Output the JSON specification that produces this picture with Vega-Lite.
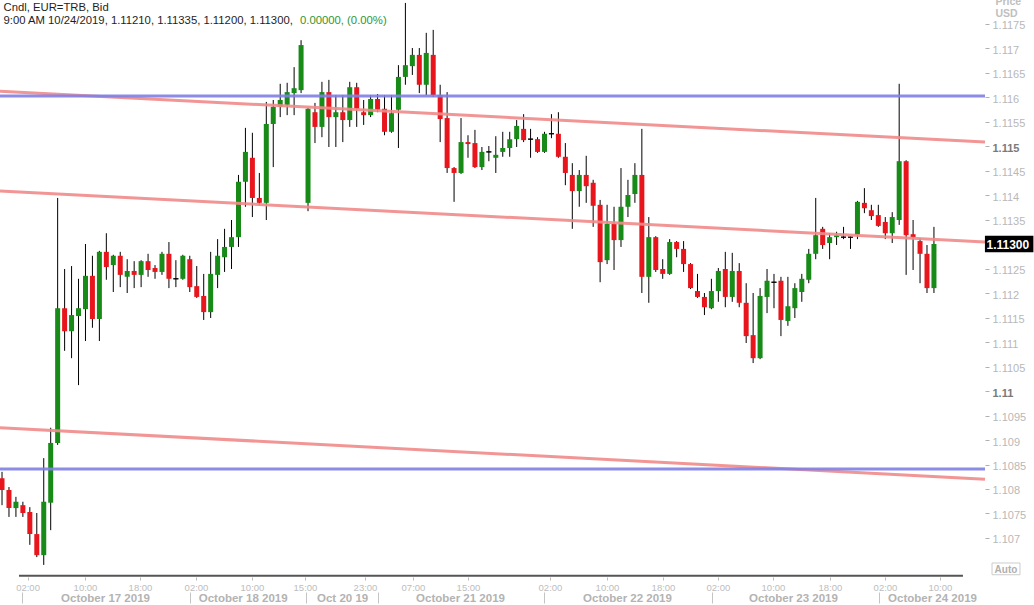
{
  "$schema": "https://vega.github.io/schema/vega-lite/v6.json",
  "width": 985,
  "height": 577,
  "autosize": "none",
  "padding": {"left": 0, "top": 0, "right": 49, "bottom": 28},
  "background": "white",
  "config": {"view": {"stroke": null}, "font": "Liberation Sans", "scale": {"continuousPadding": 0}, "axis": {"labelFont": "Liberation Sans", "titleFont": "Liberation Sans"}},
  "datasets": {
    "candles": [
      {"i":0,"o":1.10822,"h":1.10835,"l":1.10767,"c":1.10798},
      {"i":1,"o":1.10798,"h":1.10804,"l":1.10743,"c":1.10761},
      {"i":2,"o":1.10761,"h":1.10784,"l":1.10743,"c":1.10774},
      {"i":3,"o":1.10767,"h":1.10774,"l":1.10743,"c":1.10751},
      {"i":4,"o":1.10753,"h":1.10763,"l":1.10686,"c":1.10708},
      {"i":5,"o":1.10708,"h":1.10751,"l":1.10661,"c":1.10665},
      {"i":6,"o":1.10665,"h":1.10863,"l":1.10645,"c":1.10774},
      {"i":7,"o":1.10772,"h":1.10925,"l":1.10716,"c":1.10894},
      {"i":8,"o":1.10894,"h":1.11394,"l":1.10890,"c":1.11169},
      {"i":9,"o":1.11169,"h":1.11249,"l":1.11082,"c":1.11122},
      {"i":10,"o":1.11122,"h":1.11255,"l":1.11067,"c":1.11155},
      {"i":11,"o":1.11153,"h":1.11229,"l":1.11012,"c":1.11169},
      {"i":12,"o":1.11167,"h":1.11300,"l":1.11102,"c":1.11235},
      {"i":13,"o":1.11235,"h":1.11276,"l":1.11129,"c":1.11147},
      {"i":14,"o":1.11147,"h":1.11286,"l":1.11102,"c":1.11284},
      {"i":15,"o":1.11284,"h":1.11322,"l":1.11227,"c":1.11253},
      {"i":16,"o":1.11257,"h":1.11278,"l":1.11202,"c":1.11276},
      {"i":17,"o":1.11276,"h":1.11284,"l":1.11212,"c":1.11237},
      {"i":18,"o":1.11233,"h":1.11269,"l":1.11200,"c":1.11245},
      {"i":19,"o":1.11245,"h":1.11265,"l":1.11210,"c":1.11237},
      {"i":20,"o":1.11237,"h":1.11267,"l":1.11212,"c":1.11265},
      {"i":21,"o":1.11265,"h":1.11280,"l":1.11233,"c":1.11247},
      {"i":22,"o":1.11251,"h":1.11257,"l":1.11229,"c":1.11243},
      {"i":23,"o":1.11243,"h":1.11284,"l":1.11237,"c":1.11280},
      {"i":24,"o":1.11280,"h":1.11304,"l":1.11210,"c":1.11229},
      {"i":25,"o":1.11229,"h":1.11267,"l":1.11212,"c":1.11229},
      {"i":26,"o":1.11229,"h":1.11278,"l":1.11227,"c":1.11276},
      {"i":27,"o":1.11269,"h":1.11276,"l":1.11202,"c":1.11212},
      {"i":28,"o":1.11214,"h":1.11255,"l":1.11190,"c":1.11192},
      {"i":29,"o":1.11194,"h":1.11239,"l":1.11145,"c":1.11161},
      {"i":30,"o":1.11161,"h":1.11284,"l":1.11149,"c":1.11239},
      {"i":31,"o":1.11237,"h":1.11310,"l":1.11210,"c":1.11276},
      {"i":32,"o":1.11273,"h":1.11331,"l":1.11243,"c":1.11294},
      {"i":33,"o":1.11294,"h":1.11349,"l":1.11249,"c":1.11314},
      {"i":34,"o":1.11314,"h":1.11441,"l":1.11294,"c":1.11427},
      {"i":35,"o":1.11427,"h":1.11537,"l":1.11376,"c":1.11488},
      {"i":36,"o":1.11476,"h":1.11527,"l":1.11355,"c":1.11394},
      {"i":37,"o":1.11394,"h":1.11445,"l":1.11380,"c":1.11384},
      {"i":38,"o":1.11384,"h":1.11590,"l":1.11349,"c":1.11545},
      {"i":39,"o":1.11545,"h":1.11594,"l":1.11457,"c":1.11580},
      {"i":40,"o":1.11580,"h":1.11627,"l":1.11559,"c":1.11594},
      {"i":41,"o":1.11584,"h":1.11629,"l":1.11563,"c":1.11610},
      {"i":42,"o":1.11608,"h":1.11661,"l":1.11563,"c":1.11618},
      {"i":43,"o":1.11614,"h":1.11716,"l":1.11608,"c":1.11706},
      {"i":44,"o":1.11384,"h":1.11578,"l":1.11367,"c":1.11576},
      {"i":45,"o":1.11569,"h":1.11588,"l":1.11506,"c":1.11539},
      {"i":46,"o":1.11539,"h":1.11631,"l":1.11518,"c":1.11610},
      {"i":47,"o":1.11610,"h":1.11635,"l":1.11498,"c":1.11559},
      {"i":48,"o":1.11559,"h":1.11604,"l":1.11498,"c":1.11569},
      {"i":49,"o":1.11569,"h":1.11604,"l":1.11508,"c":1.11553},
      {"i":50,"o":1.11553,"h":1.11631,"l":1.11539,"c":1.11620},
      {"i":51,"o":1.11620,"h":1.11629,"l":1.11539,"c":1.11576},
      {"i":52,"o":1.11569,"h":1.11594,"l":1.11543,"c":1.11563},
      {"i":53,"o":1.11563,"h":1.11604,"l":1.11559,"c":1.11596},
      {"i":54,"o":1.11596,"h":1.11606,"l":1.11569,"c":1.11574},
      {"i":55,"o":1.11576,"h":1.11604,"l":1.11522,"c":1.11529},
      {"i":56,"o":1.11529,"h":1.11604,"l":1.11527,"c":1.11567},
      {"i":57,"o":1.11574,"h":1.11665,"l":1.11496,"c":1.11641},
      {"i":58,"o":1.11641,"h":1.11792,"l":1.11625,"c":1.11665},
      {"i":59,"o":1.11663,"h":1.11700,"l":1.11645,"c":1.11686},
      {"i":60,"o":1.11686,"h":1.11700,"l":1.11608,"c":1.11625},
      {"i":61,"o":1.11625,"h":1.11731,"l":1.11604,"c":1.11690},
      {"i":62,"o":1.11686,"h":1.11737,"l":1.11600,"c":1.11604},
      {"i":63,"o":1.11604,"h":1.11625,"l":1.11508,"c":1.11555},
      {"i":64,"o":1.11557,"h":1.11610,"l":1.11445,"c":1.11455},
      {"i":65,"o":1.11455,"h":1.11457,"l":1.11386,"c":1.11445},
      {"i":66,"o":1.11445,"h":1.11557,"l":1.11443,"c":1.11508},
      {"i":67,"o":1.11508,"h":1.11522,"l":1.11476,"c":1.11504},
      {"i":68,"o":1.11506,"h":1.11533,"l":1.11455,"c":1.11457},
      {"i":69,"o":1.11457,"h":1.11498,"l":1.11451,"c":1.11488},
      {"i":70,"o":1.11488,"h":1.11500,"l":1.11469,"c":1.11488},
      {"i":71,"o":1.11476,"h":1.11520,"l":1.11445,"c":1.11482},
      {"i":72,"o":1.11488,"h":1.11529,"l":1.11478,"c":1.11496},
      {"i":73,"o":1.11496,"h":1.11529,"l":1.11478,"c":1.11514},
      {"i":74,"o":1.11514,"h":1.11553,"l":1.11498,"c":1.11541},
      {"i":75,"o":1.11535,"h":1.11565,"l":1.11508,"c":1.11512},
      {"i":76,"o":1.11514,"h":1.11535,"l":1.11476,"c":1.11514},
      {"i":77,"o":1.11514,"h":1.11518,"l":1.11486,"c":1.11488},
      {"i":78,"o":1.11488,"h":1.11529,"l":1.11486,"c":1.11525},
      {"i":79,"o":1.11525,"h":1.11565,"l":1.11516,"c":1.11525},
      {"i":80,"o":1.11525,"h":1.11569,"l":1.11476,"c":1.11478},
      {"i":81,"o":1.11478,"h":1.11506,"l":1.11420,"c":1.11445},
      {"i":82,"o":1.11441,"h":1.11465,"l":1.11331,"c":1.11408},
      {"i":83,"o":1.11408,"h":1.11451,"l":1.11376,"c":1.11441},
      {"i":84,"o":1.11441,"h":1.11480,"l":1.11384,"c":1.11418},
      {"i":85,"o":1.11425,"h":1.11431,"l":1.11335,"c":1.11378},
      {"i":86,"o":1.11380,"h":1.11390,"l":1.11222,"c":1.11263},
      {"i":87,"o":1.11267,"h":1.11380,"l":1.11259,"c":1.11341},
      {"i":88,"o":1.11341,"h":1.11376,"l":1.11247,"c":1.11308},
      {"i":89,"o":1.11308,"h":1.11455,"l":1.11294,"c":1.11376},
      {"i":90,"o":1.11376,"h":1.11431,"l":1.11355,"c":1.11400},
      {"i":91,"o":1.11402,"h":1.11465,"l":1.11384,"c":1.11441},
      {"i":92,"o":1.11441,"h":1.11535,"l":1.11200,"c":1.11233},
      {"i":93,"o":1.11233,"h":1.11355,"l":1.11180,"c":1.11314},
      {"i":94,"o":1.11314,"h":1.11316,"l":1.11243,"c":1.11247},
      {"i":95,"o":1.11249,"h":1.11269,"l":1.11229,"c":1.11239},
      {"i":96,"o":1.11239,"h":1.11310,"l":1.11237,"c":1.11304},
      {"i":97,"o":1.11304,"h":1.11306,"l":1.11273,"c":1.11290},
      {"i":98,"o":1.11290,"h":1.11306,"l":1.11243,"c":1.11259},
      {"i":99,"o":1.11259,"h":1.11261,"l":1.11208,"c":1.11210},
      {"i":100,"o":1.11204,"h":1.11239,"l":1.11190,"c":1.11192},
      {"i":101,"o":1.11192,"h":1.11200,"l":1.11155,"c":1.11171},
      {"i":102,"o":1.11169,"h":1.11229,"l":1.11167,"c":1.11204},
      {"i":103,"o":1.11204,"h":1.11251,"l":1.11182,"c":1.11245},
      {"i":104,"o":1.11249,"h":1.11284,"l":1.11171,"c":1.11192},
      {"i":105,"o":1.11192,"h":1.11282,"l":1.11182,"c":1.11245},
      {"i":106,"o":1.11245,"h":1.11261,"l":1.11171,"c":1.11180},
      {"i":107,"o":1.11180,"h":1.11220,"l":1.11098,"c":1.11112},
      {"i":108,"o":1.11114,"h":1.11200,"l":1.11057,"c":1.11067},
      {"i":109,"o":1.11067,"h":1.11210,"l":1.11065,"c":1.11194},
      {"i":110,"o":1.11192,"h":1.11249,"l":1.11159,"c":1.11225},
      {"i":111,"o":1.11222,"h":1.11239,"l":1.11169,"c":1.11222},
      {"i":112,"o":1.11225,"h":1.11233,"l":1.11112,"c":1.11145},
      {"i":113,"o":1.11143,"h":1.11233,"l":1.11133,"c":1.11173},
      {"i":114,"o":1.11169,"h":1.11220,"l":1.11149,"c":1.11210},
      {"i":115,"o":1.11202,"h":1.11239,"l":1.11182,"c":1.11229},
      {"i":116,"o":1.11227,"h":1.11290,"l":1.11220,"c":1.11280},
      {"i":117,"o":1.11280,"h":1.11394,"l":1.11269,"c":1.11318},
      {"i":118,"o":1.11331,"h":1.11335,"l":1.11290,"c":1.11298},
      {"i":119,"o":1.11302,"h":1.11322,"l":1.11269,"c":1.11314},
      {"i":120,"o":1.11314,"h":1.11325,"l":1.11298,"c":1.11318},
      {"i":121,"o":1.11314,"h":1.11335,"l":1.11310,"c":1.11314},
      {"i":122,"o":1.11314,"h":1.11316,"l":1.11290,"c":1.11314},
      {"i":123,"o":1.11318,"h":1.11388,"l":1.11310,"c":1.11386},
      {"i":124,"o":1.11384,"h":1.11414,"l":1.11363,"c":1.11373},
      {"i":125,"o":1.11369,"h":1.11380,"l":1.11349,"c":1.11357},
      {"i":126,"o":1.11359,"h":1.11380,"l":1.11335,"c":1.11337},
      {"i":127,"o":1.11345,"h":1.11355,"l":1.11310,"c":1.11322},
      {"i":128,"o":1.11322,"h":1.11365,"l":1.11302,"c":1.11355},
      {"i":129,"o":1.11349,"h":1.11627,"l":1.11339,"c":1.11469},
      {"i":130,"o":1.11469,"h":1.11471,"l":1.11237,"c":1.11318},
      {"i":131,"o":1.11320,"h":1.11349,"l":1.11247,"c":1.11314},
      {"i":132,"o":1.11306,"h":1.11312,"l":1.11220,"c":1.11280},
      {"i":133,"o":1.11280,"h":1.11298,"l":1.11200,"c":1.11210},
      {"i":134,"o":1.11210,"h":1.11335,"l":1.11200,"c":1.11300}
    ],
    "lines": [
      {"id":"p1","i":-0.29,"v":1.11612},{"id":"p1","i":141.34,"v":1.11508},
      {"id":"p2","i":-0.29,"v":1.11408},{"id":"p2","i":141.34,"v":1.11304},
      {"id":"p3","i":-0.29,"v":1.10925},{"id":"p3","i":141.34,"v":1.10820},
      {"id":"b1","i":-0.29,"v":1.11602},{"id":"b1","i":141.34,"v":1.11602},
      {"id":"b2","i":-0.29,"v":1.10841},{"id":"b2","i":141.34,"v":1.10841}
    ]
  },
  "layer": [
    {
      "data": {"name": "candles"},
      "mark": {"type": "rule", "color": "#000000", "strokeWidth": 1},
      "encoding": {
        "x": {"field": "i", "type": "quantitative", "scale": {"domain": [-0.29, 141.34], "nice": false, "zero": false, "padding": 0},
          "axis": {"orient": "bottom", "title": null, "domain": false, "grid": false,
            "values": [3.67,11.93,19.84,27.89,35.94,43.56,52.19,59.09,67,78.79,86.99,95.04,102.94,110.85,119.05,126.96,134.86],
            "labelExpr": "['02:00','10:00','18:00','02:00','10:00','15:00','23:00','07:00','15:00','02:00','10:00','18:00','02:00','10:00','18:00','02:00','10:00'][indexof([3.67,11.93,19.84,27.89,35.94,43.56,52.19,59.09,67,78.79,86.99,95.04,102.94,110.85,119.05,126.96,134.86], datum.value)]",
            "tickSize": 3, "tickColor": "#bbbbbb", "labelFontSize": 9.5, "labelColor": "#bdbdbd", "labelPadding": 2,
            "labelOverlap": false, "labelFlush": false}},
        "y": {"field": "h", "type": "quantitative", "scale": {"domain": [1.106204, 1.11798], "nice": false, "zero": false}, "axis": null},
        "y2": {"field": "l"}
      }
    },
    {
      "data": {"name": "candles"},
      "mark": {"type": "bar", "size": 5, "stroke": "#000000"},
      "encoding": {
        "x": {"field": "i", "type": "quantitative", "scale": {"domain": [-0.29, 141.34], "nice": false, "zero": false, "padding": 0}, "axis": null},
        "y": {"field": "o", "type": "quantitative", "scale": {"domain": [1.106204, 1.11798], "nice": false, "zero": false}, "axis": null},
        "y2": {"field": "c"},
        "color": {"condition": {"test": "datum.c >= datum.o", "value": "#178a17"}, "value": "#e8161c"},
        "strokeWidth": {"condition": {"test": "datum.o == datum.c", "value": 1}, "value": 0}
      }
    },
    {
      "data": {"name": "lines"},
      "mark": {"type": "line", "strokeWidth": 3, "opacity": 0.9},
      "encoding": {
        "x": {"field": "i", "type": "quantitative", "scale": {"domain": [-0.29, 141.34], "nice": false, "zero": false, "padding": 0}, "axis": null},
        "y": {"field": "v", "type": "quantitative", "scale": {"domain": [1.106204, 1.11798], "nice": false, "zero": false},
          "axis": {"orient": "right", "domain": false, "grid": false,
            "values": [1.107,1.1075,1.108,1.1085,1.109,1.1095,1.11,1.1105,1.111,1.1115,1.112,1.1125,1.1135,1.114,1.1145,1.115,1.1155,1.116,1.1165,1.117,1.1175],
            "format": ".5~f", "tickSize": 4, "tickColor": "#b0b0b0", "labelPadding": 3, "labelFontSize": 11, "labelOffset": 2,
            "labelColor": {"condition": {"test": "abs(datum.value - 1.115) < 0.00001 || abs(datum.value - 1.11) < 0.00001", "value": "#7a7a7a"}, "value": "#b8b8b8"},
            "labelFontWeight": {"condition": {"test": "abs(datum.value - 1.115) < 0.00001 || abs(datum.value - 1.11) < 0.00001", "value": "bold"}, "value": "normal"},
            "labelOverlap": false, "labelFlush": false,
            "title": ["Price", "USD"], "titleAngle": 0, "titleAlign": "left", "titleBaseline": "alphabetic",
            "titleX": 10, "titleY": 4, "titleLineHeight": 12.5, "titleColor": "#c0c0c0", "titleFontSize": 10.5, "titleFontWeight": "bold"}},
        "detail": {"field": "id"},
        "color": {"field": "id", "type": "nominal", "legend": null,
          "scale": {"domain": ["p1","p2","p3","b1","b2"], "range": ["#f08a8a","#f08a8a","#f08a8a","#8080e4","#8080e4"]}}
      }
    },
    {
      "data": {"values": [{"a": 2.44, "b": 138.17, "y": 1.10623}]},
      "mark": {"type": "rule", "color": "#555555", "strokeWidth": 2},
      "encoding": {
        "x": {"field": "a", "type": "quantitative", "scale": {"domain": [-0.29, 141.34], "nice": false, "zero": false, "padding": 0}, "axis": null},
        "x2": {"field": "b"},
        "y": {"field": "y", "type": "quantitative", "scale": {"domain": [1.106204, 1.11798], "nice": false, "zero": false}, "axis": null}
      }
    },
    {
      "data": {"values": [{"price": 1.113, "label": "1.11300"}]},
      "mark": {"type": "rect", "color": "#000000"},
      "encoding": {
        "x": {"datum": 141.33, "type": "quantitative", "scale": {"domain": [-0.29, 141.34], "nice": false, "zero": false, "padding": 0}, "axis": null},
        "x2": {"datum": 148.3},
        "y": {"datum": 1.11317, "type": "quantitative", "scale": {"domain": [1.106204, 1.11798], "nice": false, "zero": false}, "axis": null},
        "y2": {"datum": 1.11283}
      }
    },
    {
      "data": {"values": [{"price": 1.113, "label": "1.11300"}]},
      "mark": {"type": "text", "color": "#ffffff", "fontWeight": "bold", "fontSize": 12, "align": "left", "baseline": "middle", "dy": 1},
      "encoding": {
        "x": {"datum": 141.55, "type": "quantitative", "scale": {"domain": [-0.29, 141.34], "nice": false, "zero": false, "padding": 0}, "axis": null},
        "y": {"field": "price", "type": "quantitative", "scale": {"domain": [1.106204, 1.11798], "nice": false, "zero": false}, "axis": null},
        "text": {"field": "label"}
      }
    },
    {
      "data": {"values": [{"label": "Auto"}]},
      "mark": {"type": "rect", "fill": "#ffffff", "stroke": "#cccccc", "strokeWidth": 1},
      "encoding": {
        "x": {"datum": 142.35, "type": "quantitative", "scale": {"domain": [-0.29, 141.34], "nice": false, "zero": false, "padding": 0}, "axis": null},
        "x2": {"datum": 146.37},
        "y": {"datum": 1.10649, "type": "quantitative", "scale": {"domain": [1.106204, 1.11798], "nice": false, "zero": false}, "axis": null},
        "y2": {"datum": 1.10625}
      }
    },
    {
      "data": {"values": [{"label": "Auto"}]},
      "mark": {"type": "text", "color": "#b0b0b0", "fontWeight": "bold", "fontSize": 10, "align": "center", "baseline": "middle", "dy": 1},
      "encoding": {
        "x": {"datum": 144.36, "type": "quantitative", "scale": {"domain": [-0.29, 141.34], "nice": false, "zero": false, "padding": 0}, "axis": null},
        "y": {"datum": 1.10637, "type": "quantitative", "scale": {"domain": [1.106204, 1.11798], "nice": false, "zero": false}, "axis": null},
        "text": {"field": "label"}
      }
    },
    {
      "data": {"values": [{"k": 0}]},
      "mark": {"type": "point", "opacity": 0},
      "encoding": {
        "x": {"field": "k", "type": "quantitative", "scale": {"domain": [-0.29, 141.34], "nice": false, "zero": false, "padding": 0},
          "axis": {"orient": "bottom", "offset": 15, "title": null, "domain": false, "grid": false, "labels": false,
            "values": [2.87, 27.03, 43.71, 54.06, 77.93, 102.08, 126.09], "tickSize": 11, "tickColor": "#c4c4c4", "tickWidth": 1}}
      }
    },
    {
      "data": {"values": [{"k": 0}]},
      "mark": {"type": "point", "opacity": 0},
      "encoding": {
        "x": {"field": "k", "type": "quantitative", "scale": {"domain": [-0.29, 141.34], "nice": false, "zero": false, "padding": 0},
          "axis": {"orient": "bottom", "title": null, "domain": false, "grid": false, "ticks": false, "tickSize": 0,
            "values": [14.81, 34.6, 48.9, 65.85, 89.86, 113.73, 133.72],
            "labelExpr": "['October 17 2019','October 18 2019','Oct 20 19','October 21 2019','October 22 2019','October 23 2019','October 24 2019'][indexof([14.81, 34.6, 48.9, 65.85, 89.86, 113.73, 133.72], datum.value)]",
            "labelPadding": 15, "labelFontSize": 11.5, "labelFontWeight": "bold", "labelColor": "#b3b3b3",
            "labelOverlap": false, "labelFlush": false}}
      }
    },
    {
      "data": {"values": [{"k": 0}]},
      "mark": {"type": "point", "opacity": 0},
      "encoding": {
        "x": {"field": "k", "type": "quantitative", "scale": {"domain": [-0.29, 141.34], "nice": false, "zero": false, "padding": 0},
          "axis": {"orient": "top", "domain": false, "grid": false, "ticks": false, "labels": false,
            "title": ["Cndl, EUR=TRB, Bid", "9:00 AM 10/24/2019, 1.11210, 1.11335, 1.11200, 1.11300,"],
            "titleX": 3, "titleY": 10.5, "titleAlign": "left", "titleAnchor": "start", "titleBaseline": "alphabetic", "titleAngle": 0,
            "titleLineHeight": 12.5, "titleFontSize": 11.3, "titleFontWeight": "normal", "titleColor": "#1e1e1e"}}
      }
    },
    {
      "data": {"values": [{"k": 0}]},
      "mark": {"type": "point", "opacity": 0},
      "encoding": {
        "x": {"field": "k", "type": "quantitative", "scale": {"domain": [-0.29, 141.34], "nice": false, "zero": false, "padding": 0},
          "axis": {"orient": "top", "domain": false, "grid": false, "ticks": false, "labels": false,
            "title": "0.00000, (0.00%)",
            "titleX": 299.5, "titleY": 23, "titleAlign": "left", "titleAnchor": "start", "titleBaseline": "alphabetic", "titleAngle": 0,
            "titleFontSize": 11.3, "titleFontWeight": "normal", "titleColor": "#2f962f"}}
      }
    }
  ],
  "resolve": {"axis": {"x": "independent", "y": "independent"}}
}
